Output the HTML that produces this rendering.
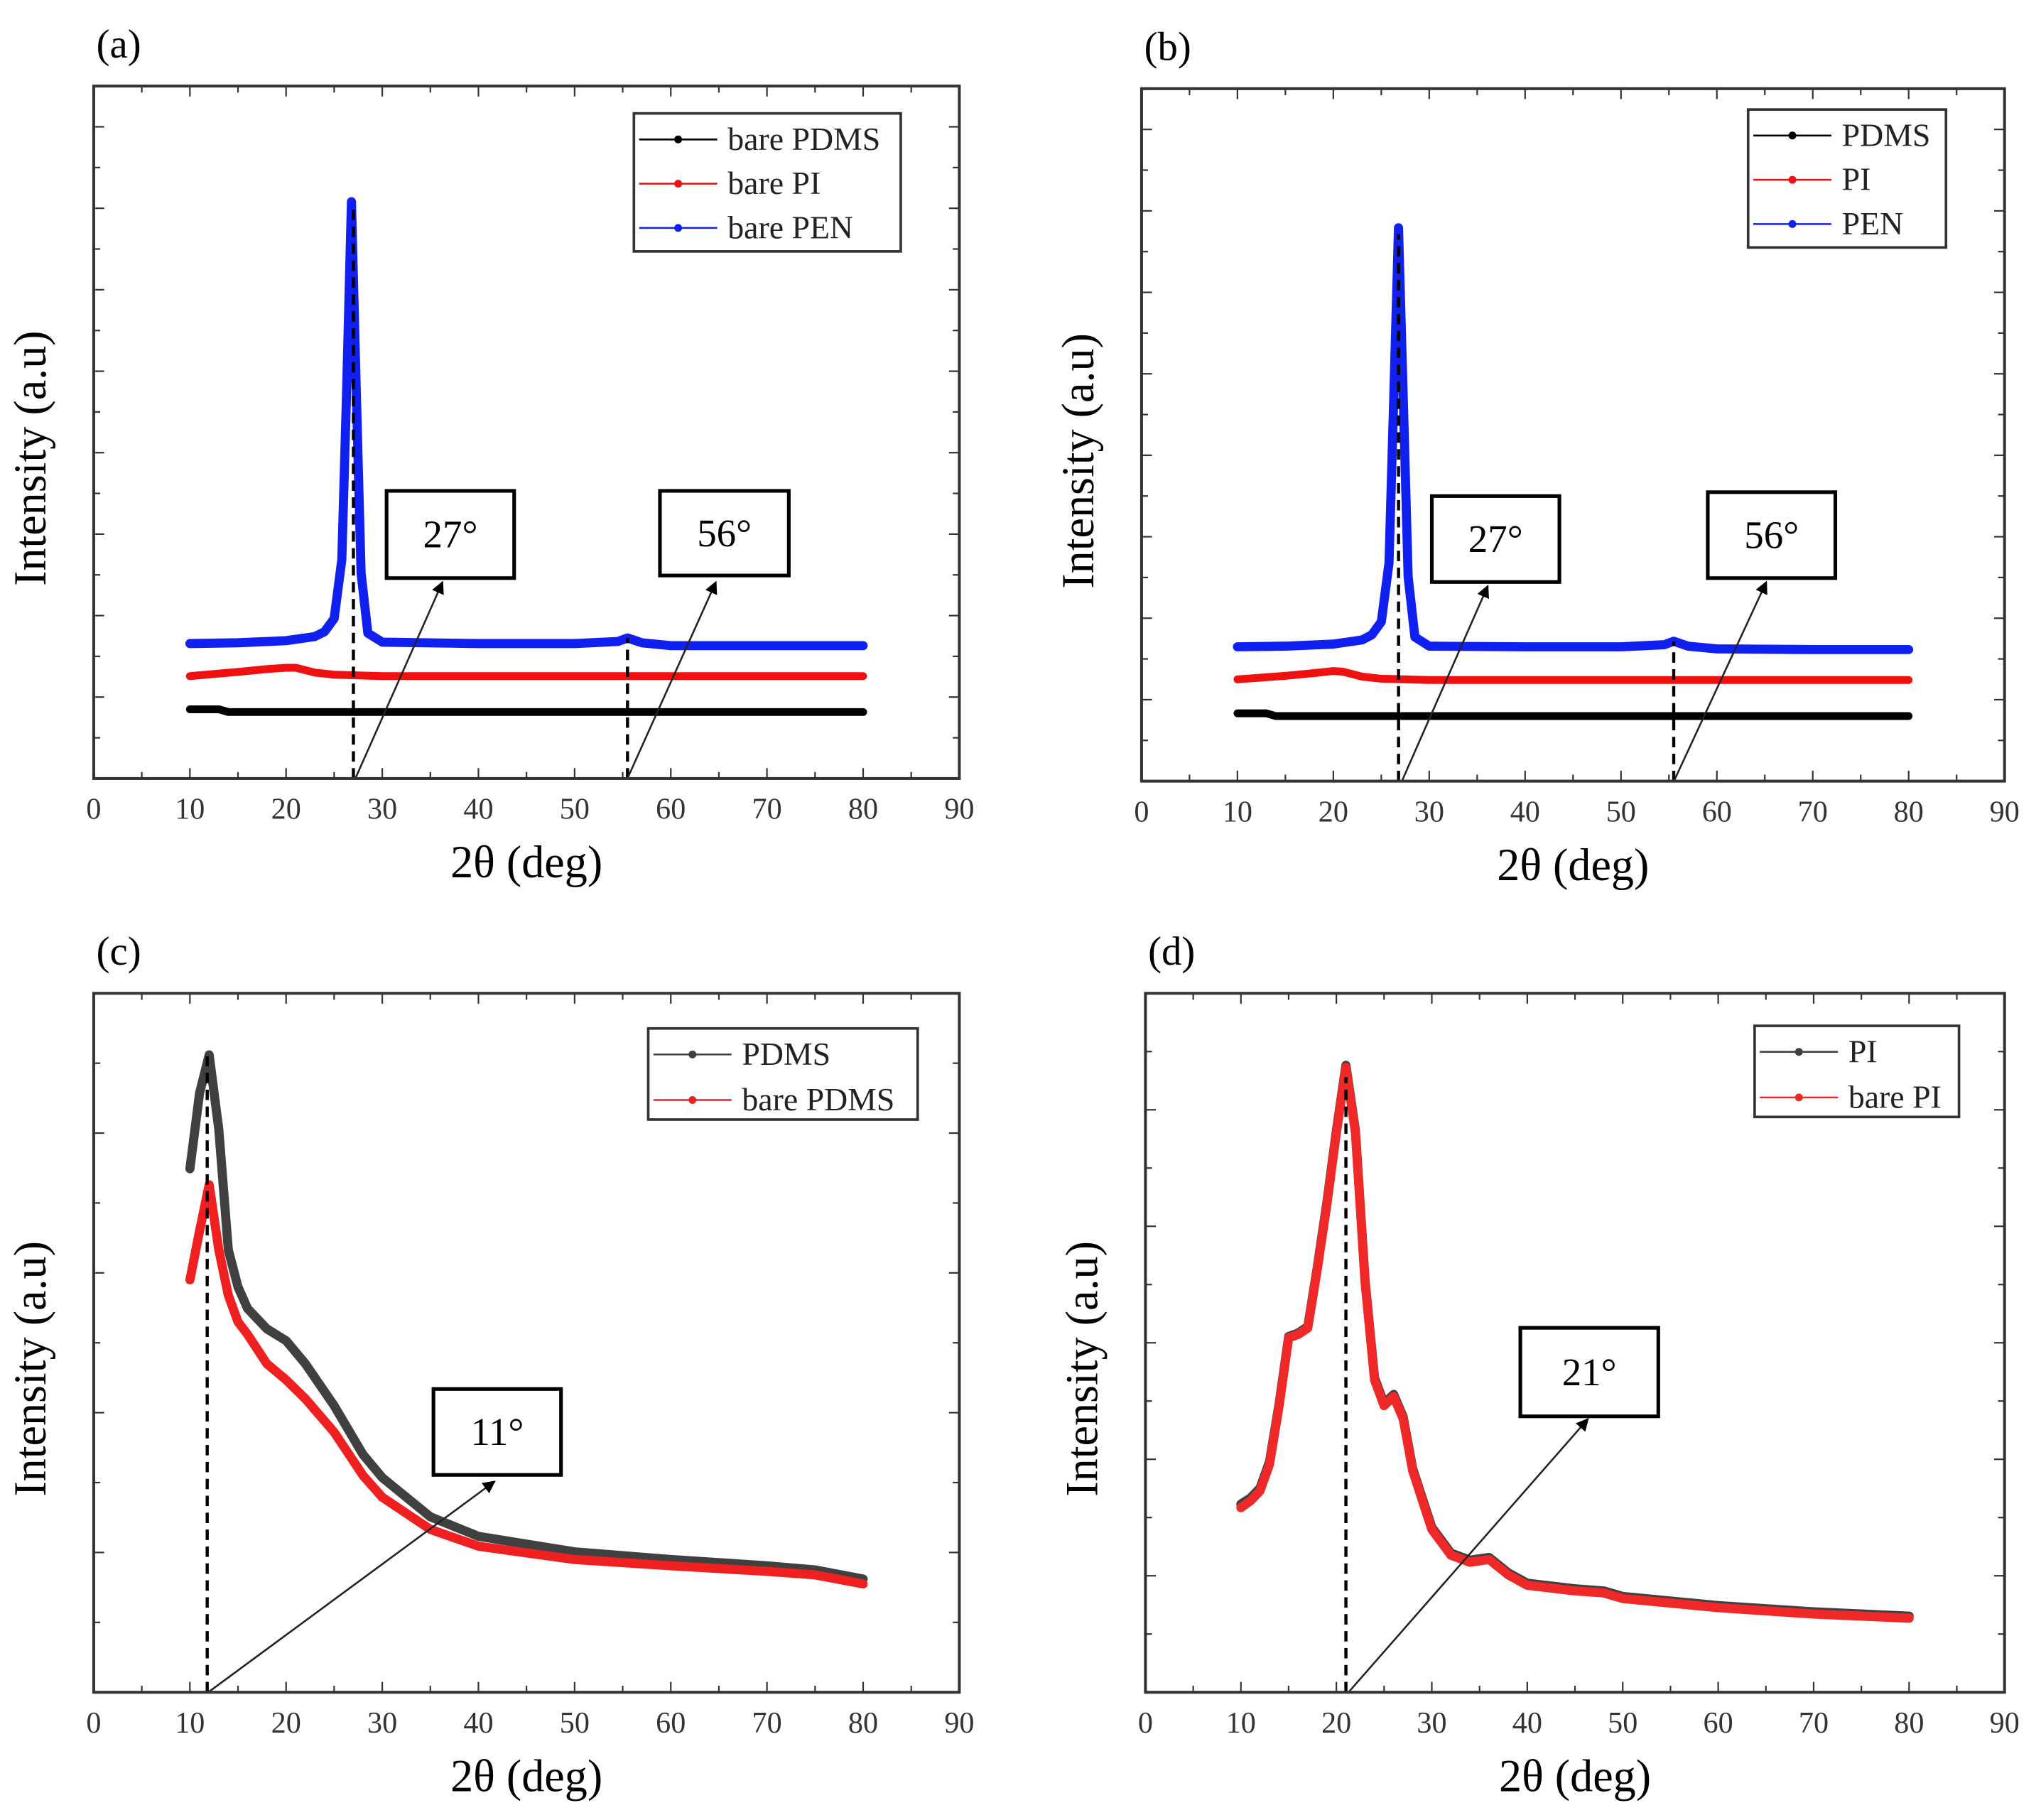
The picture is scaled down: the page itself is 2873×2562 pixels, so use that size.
<!DOCTYPE html>
<html><head><meta charset="utf-8"><style>
html,body{margin:0;padding:0;background:#fff;}
svg{display:block;font-family:"Liberation Serif",serif;}
</style></head><body>
<svg id="fig" width="2873" height="2562" viewBox="0 0 1568 1398" xmlns="http://www.w3.org/2000/svg">
<defs><marker id="ah" viewBox="0 0 10 10" refX="9" refY="5" markerWidth="7" markerHeight="7" orient="auto"><path d="M0,0 L10,5 L0,10 z" fill="#000"/></marker></defs>
</svg>
<script>
// ---- data (intensity in arbitrary units, 0-100 axis) ----
const xTicks = [0,10,20,30,40,50,60,70,80,90];
const a_pdms_x = [10,13,14,20,40,60,80];
const a_pdms_y = [10.0,10.0,9.6,9.6,9.6,9.6,9.6];
const a_pi_x = [10,15,18,20,21,23,25,30,40,60,80];
const a_pi_y = [14.8,15.4,15.8,16.0,16.0,15.3,15.0,14.8,14.8,14.8,14.8];
const a_pen_x = [10,15,20,23,24,25,25.8,26.3,26.8,27.3,27.8,28.5,30,40,50,54.5,55.5,57,60,70,80];
const a_pen_y = [19.5,19.6,19.9,20.5,21.2,23.1,31.6,56,83.3,56,29.7,21,19.7,19.5,19.5,19.8,20.3,19.6,19.2,19.2,19.2];
const b_pdms_x = [10,13,14,20,40,60,80];
const b_pdms_y = [9.8,9.8,9.4,9.4,9.4,9.4,9.4];
const b_pi_x = [10,15,18,20,21,23,25,30,40,60,80];
const b_pi_y = [14.7,15.2,15.6,15.9,15.8,15.1,14.8,14.6,14.6,14.6,14.6];
const b_pen_x = [10,15,20,23,24,25,25.8,26.3,26.8,27.3,27.8,28.5,30,40,50,54.5,55.5,57,60,70,80];
const b_pen_y = [19.4,19.5,19.8,20.4,21.1,23.0,31.5,55,79.9,55,29.5,20.8,19.5,19.4,19.4,19.7,20.2,19.5,19.1,19.0,19.0];
const c_pdms_x = [10,11,12,13,14,15,16,18,20,22,25,28,30,35,40,50,60,70,75,80];
const c_pdms_y = [74.9,85.7,91.2,80.5,63.3,58,54.9,52,50.3,47,41.0,34,30.7,25.1,22.3,20.1,19.0,18.1,17.5,16.2];
const c_bare_x = [10,11,12,13,14,15,16,18,20,22,25,28,30,35,40,50,60,70,75,80];
const c_bare_y = [59.0,66,72.6,63.3,56.8,53,51.2,47,44.7,42,37.2,31,27.9,23.3,20.9,19.0,18.1,17.3,16.8,15.5];
const d_x = [10,11,12,13,14,15,16,17,18,19,20,21,22,23,24,25,26,27,28,30,32,34,36,38,40,45,48,50,60,70,80];
const d_pi_y = [26.9,27.8,29.2,33,41.3,50.9,51.4,52.3,60.8,70,80.4,89.7,80.4,59,45,41.3,42.6,39.4,32,23.6,19.9,18.9,19.3,17.1,15.6,14.8,14.5,13.7,12.4,11.5,10.9];
const d_bare_y = [26.4,27.4,28.8,32.6,41.0,50.7,51.2,52.1,60.5,69.7,80.1,89.4,80.1,58.7,44.7,41.0,42.3,39.1,31.7,23.3,19.6,18.6,19.0,16.8,15.3,14.5,14.2,13.4,12.1,11.2,10.6];

const NS="http://www.w3.org/2000/svg";
const svg=document.getElementById('fig');
function mk(tag,attrs,parent){const e=document.createElementNS(NS,tag);for(const k in attrs)e.setAttribute(k,attrs[k]);(parent||svg).appendChild(e);return e;}

function panel(p){
  const g=mk('g',{});
  
  
  const sx=v=>p.x0+(v/90)*(p.x1-p.x0);
  const sy=v=>p.y1-(v/100)*(p.y1-p.y0);
  for(let i=0;i<=18;i++){
    const v=i*5, X=sx(v), len=(i%2==0)?8:5;
    mk('line',{x1:X,y1:p.y1,x2:X,y2:p.y1-len,stroke:'#333','stroke-width':1.2},g);
    mk('line',{x1:X,y1:p.y0,x2:X,y2:p.y0+len,stroke:'#333','stroke-width':1.2},g);
  }
  for(let i=1;i<p.ny;i++){
    const Y=p.y1-(i/p.ny)*(p.y1-p.y0), len=(i%2==0)?8:5;
    mk('line',{x1:p.x0,y1:Y,x2:p.x0+len,y2:Y,stroke:'#333','stroke-width':1.2},g);
    mk('line',{x1:p.x1,y1:Y,x2:p.x1-len,y2:Y,stroke:'#333','stroke-width':1.2},g);
  }
  xTicks.forEach(t=>{
    const tl=mk('text',{x:sx(t),y:p.y1+31,'text-anchor':'middle','font-size':23,fill:'#333'},g);
    
    
    tl.textContent=t;
  });
  p.series.forEach(s=>{
    const d=s.x.map((v,i)=>(i?'L':'M')+sx(v).toFixed(1)+','+sy(s.y[i]).toFixed(1)).join('');
    const path=mk('path',{d:d,fill:'none',stroke:s.c,'stroke-width':s.w||6,'stroke-linejoin':'round','stroke-linecap':'round'},g);
    
    
  });
  p.ann.forEach(a=>{
    mk('line',{x1:sx(a.px),y1:p.y1,x2:sx(a.px),y2:sy(a.py),stroke:'#000','stroke-width':2.4,'stroke-dasharray':'8,5'},g);
    const ar=mk('line',{x1:a.ax0,y1:p.y1,x2:a.ax1,y2:a.ay1,stroke:'#222','stroke-width':1.4,'marker-end':'url(#ah)'},g);
    
    
    const r=mk('rect',{x:a.bx,y:a.by,width:a.bw,height:a.bh,fill:'#fff',stroke:'#000','stroke-width':2.8},g);
    
    
    const t=mk('text',{x:a.bx+a.bw/2,y:a.by+a.bh/2+10,'text-anchor':'middle','font-size':30},g);
    
    
    t.textContent=a.label;
  });
  mk('rect',{x:p.x0,y:p.y0,width:p.x1-p.x0,height:p.y1-p.y0,fill:'none',stroke:'#333','stroke-width':2.2},g);
  const L=p.leg;
  const lr=mk('rect',{x:L.x,y:L.y,width:L.w,height:L.h,fill:'#fff',stroke:'#333','stroke-width':2},g);
  
  
  L.items.forEach((it,i)=>{
    const Y=L.y+20+i*L.dy;
    mk('line',{x1:L.x+4,y1:Y,x2:L.x+64,y2:Y,stroke:it.c,'stroke-width':1.4},g);
    mk('circle',{cx:L.x+34,cy:Y,r:3,fill:it.c},g);
    const t=mk('text',{x:L.x+72,y:Y+8,'font-size':25,fill:'#222'},g);
    
    
    t.textContent=it.t;
  });
  const pl=mk('text',{x:p.x0+2,y:p.y0-22,'font-size':31},g);
  
  
  pl.textContent='('+p.id+')';
  const xt=mk('text',{x:(p.x0+p.x1)/2,y:p.y1+76,'text-anchor':'middle','font-size':35},g);
  
  
  xt.textContent='2θ (deg)';
  const cy=(p.y0+p.y1)/2+20;
  const yt=mk('text',{x:p.x0-37,y:cy,'text-anchor':'middle','font-size':35,transform:'rotate(-90 '+(p.x0-37)+' '+cy+')'},g);
  
  
  yt.textContent='Intensity (a.u)';
}

panel({id:'a',x0:72,x1:737,y0:66,y1:598,ny:17,
 series:[{name:'bare-pdms',x:a_pdms_x,y:a_pdms_y,c:'#000'},{name:'bare-pi',x:a_pi_x,y:a_pi_y,c:'#f01010'},{name:'bare-pen',x:a_pen_x,y:a_pen_y,c:'#1020f0',w:7}],
 ann:[{px:27,py:83,ax0:273,ax1:340,ay1:447,bx:297,by:377,bw:98,bh:67,label:'27°'},
      {px:55.5,py:20.3,ax0:482,ax1:550,ay1:447,bx:507,by:377,bw:99,bh:65,label:'56°'}],
 leg:{x:487,y:87,w:205,h:106,dy:34,items:[{t:'bare PDMS',c:'#000'},{t:'bare PI',c:'#f01010'},{t:'bare PEN',c:'#1020f0'}]}});
panel({id:'b',x0:877,x1:1540,y0:68,y1:600,ny:17,
 series:[{name:'pdms',x:b_pdms_x,y:b_pdms_y,c:'#000'},{name:'pi',x:b_pi_x,y:b_pi_y,c:'#f01010'},{name:'pen',x:b_pen_x,y:b_pen_y,c:'#1020f0',w:7}],
 ann:[{px:26.8,py:79,ax0:1077,ax1:1143,ay1:450,bx:1100,by:381,bw:98,bh:66,label:'27°'},
      {px:55.5,py:20.2,ax0:1286,ax1:1357,ay1:447,bx:1312,by:378,bw:98,bh:66,label:'56°'}],
 leg:{x:1343,y:84,w:152,h:106,dy:34,items:[{t:'PDMS',c:'#000'},{t:'PI',c:'#f01010'},{t:'PEN',c:'#1020f0'}]}});
panel({id:'c',x0:72,x1:737,y0:763,y1:1300,ny:10,
 series:[{name:'pdms',x:c_pdms_x,y:c_pdms_y,c:'#404040',w:7},{name:'bare-pdms',x:c_bare_x,y:c_bare_y,c:'#f02020',w:7}],
 ann:[{px:11.8,py:91,ax0:160,ax1:380,ay1:1138,bx:333,by:1067,bw:98,bh:66,label:'11°'}],
 leg:{x:498,y:790,w:207,h:70,dy:35,items:[{t:'PDMS',c:'#404040'},{t:'bare PDMS',c:'#f02020'}]}});
panel({id:'d',x0:880,x1:1540,y0:763,y1:1300,ny:12,
 series:[{name:'pi',x:d_x,y:d_pi_y,c:'#404040',w:7},{name:'bare-pi',x:d_x,y:d_bare_y,c:'#f02828',w:7}],
 ann:[{px:21,py:88,ax0:1036,ax1:1220,ay1:1090,bx:1168,by:1020,bw:106,bh:68,label:'21°'}],
 leg:{x:1348,y:788,w:157,h:70,dy:35,items:[{t:'PI',c:'#404040'},{t:'bare PI',c:'#f02828'}]}});
</script>
</body></html>
